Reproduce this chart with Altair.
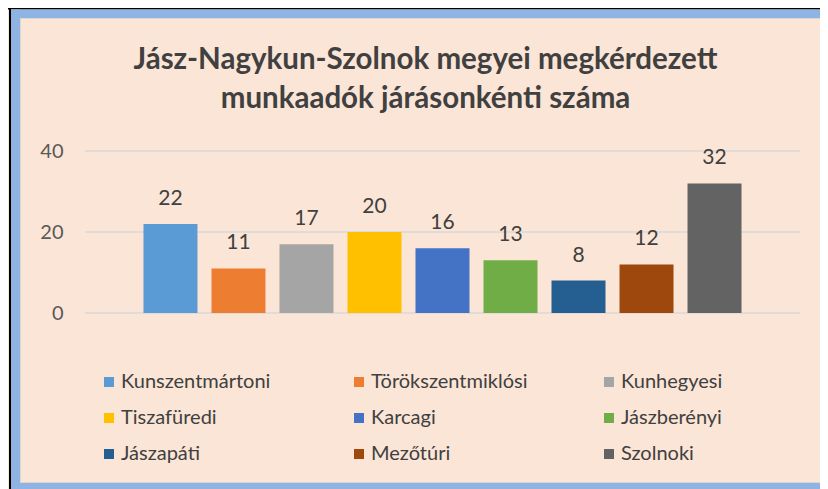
import altair as alt
import pandas as pd

categories = ["Kunszentmártoni", "Törökszentmiklósi", "Kunhegyesi", "Tiszafüredi",
              "Karcagi", "Jászberényi", "Jászapáti", "Mezőtúri", "Szolnoki"]
counts = [22, 11, 17, 20, 16, 13, 8, 12, 32]
colors = ["#5B9BD5", "#ED7D31", "#A5A5A5", "#FFC000", "#4472C4",
          "#70AD47", "#255E91", "#9E480E", "#636363"]
y_ticks = [0, 20, 40]
title_lines = ["Jász-Nagykun-Szolnok megyei megkérdezett",
               "munkaadók járásonkénti száma"]

df = pd.DataFrame({"járás": categories, "db": counts})
grid_df = pd.DataFrame({"v": y_ticks})
frame_df = pd.DataFrame({"k": [0]})

W, H = 715, 162
L, T, R, B = 77, 143, 20, 176
WT = L + W + R
HT = T + H + B
FONT = "Lato, sans-serif"

yscale = alt.Scale(domain=[0, 40], nice=False)
yaxis = alt.Axis(values=y_ticks, grid=False, domain=False, ticks=False,
                 labelPadding=22, labelFont=FONT, labelFontSize=20,
                 labelColor="#595959", title=None, zindex=1)
xenc = alt.X("járás:N", sort=categories, axis=None,
             scale=alt.Scale(paddingInner=0.206, paddingOuter=0.86))

grid = alt.Chart(grid_df).mark_rule(color="#D9D9D9", strokeWidth=1.5).encode(
    y=alt.Y("v:Q", scale=yscale, axis=yaxis)
)

bars = alt.Chart(df).mark_bar().encode(
    x=xenc,
    y=alt.Y("db:Q", scale=yscale, axis=yaxis),
    color=alt.Color("járás:N", sort=categories,
                    scale=alt.Scale(domain=categories, range=colors),
                    legend=alt.Legend(orient="none", legendX=14, legendY=221,
                                      direction="horizontal",
                                      columns=3, symbolType="square",
                                      symbolSize=100, symbolStrokeWidth=0,
                                      labelFont=FONT, labelFontSize=20,
                                      labelColor="#404040", columnPadding=71,
                                      rowPadding=16, gridAlign="all",
                                      title=None, labelOffset=2, padding=0,
                                      labelLimit=400)),
)

labels = alt.Chart(df).mark_text(dy=-25, baseline="middle", font=FONT,
                                 fontSize=21, color="#404040").encode(
    x=xenc,
    y=alt.Y("db:Q", scale=yscale, axis=yaxis),
    text="db:Q",
)


def band(x0, x1, y0, y1, color):
    # decorative frame strip, given in chart pixels
    return alt.Chart(frame_df).mark_rect(fill=color, strokeWidth=0).encode(
        x=alt.value(x0 - L), x2=alt.value(x1 - L),
        y=alt.value(y0 - T), y2=alt.value(y1 - T),
    )


BLUE = "#8EB4E3"
frame = [
    band(0, WT, 0, 1.5, "#000000"),
    band(1, 3, 0, HT, "#000000"),
    band(3, WT, 1.5, 10, BLUE),
    band(3, 12, 1.5, HT, BLUE),
    band(3, WT, HT - 6, HT, BLUE),
    band(12, 13, 10, HT - 6, "#DCD6D2"),
    band(12, WT, 10, 11, "#DCD6D2"),
    band(12, WT, HT - 7, HT - 6, "#DCD6D2"),
]

chart = alt.layer(grid, bars, labels, *frame).properties(
    width=W, height=H,
    autosize=alt.AutoSizeParams(type="none"),
    padding={"left": L, "top": T, "right": R, "bottom": B},
    background="#FBE5D6",
    title=alt.TitleParams(text=title_lines, font=FONT, fontSize=29.5,
                          fontWeight="bold", color="#404040", lineHeight=39,
                          anchor="middle", frame="group", dx=-17, dy=106,
                          offset=0),
).configure_view(strokeWidth=0)

chart.save("out.html", embed_options={"renderer": "svg", "actions": False})
